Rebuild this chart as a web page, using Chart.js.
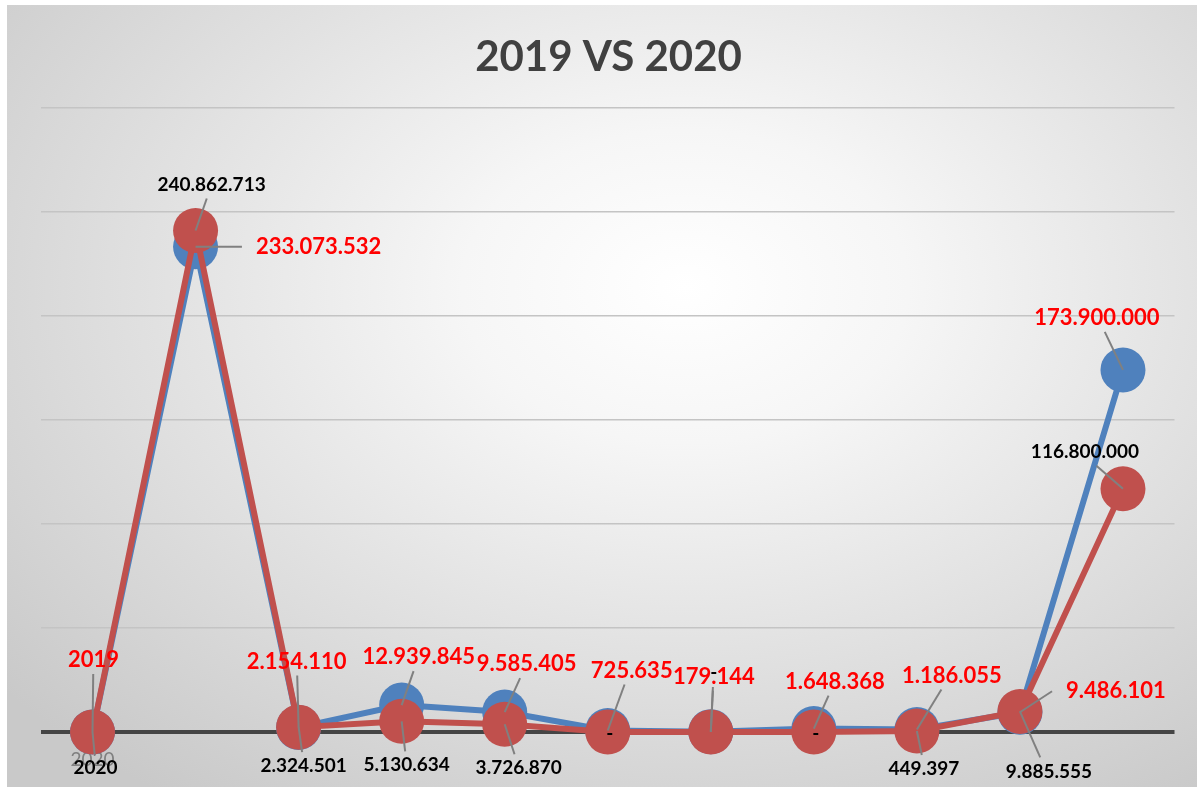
<!DOCTYPE html>
<html>
<head>
<meta charset="utf-8">
<script src="https://cdn.jsdelivr.net/npm/chart.js@4.4.1/dist/chart.umd.min.js"></script>
<style>
	html, body { margin: 0; padding: 0; background: #fff; }
	#wrap {
		position: absolute; left: 7px; top: 5px; width: 1190px; height: 782px;
		background: radial-gradient(ellipse 75% 80% at 57% 36%, #ffffff 0%, #f6f6f6 25%, #e2e2e2 58%, #c9c9c9 100%);
	}
</style>
</head>
<body>
<div id="wrap"><canvas id="chart" width="1190" height="782"></canvas></div>
<script>

const categories = ['2020', '', '', '', '', '', '', '', '', '', ''];

const seriesNames = ['2019', '2020'];

const values2019 = [0, 233073532, 2154110, 12939845, 9585405, 725635, 179144, 1648368, 1186055, 9486101, 173900000];
const values2020 = [0, 240862713, 2324501, 5130634, 3726870, 0, 0, 0, 449397, 9885555, 116800000];

const yTicks = { min: 0, max: 300000000, step: 50000000 };

// label placement, offset of label centre from its point (px)
const offsets2019 = [[1,-72],[123,0],[-2,-66],[17,-48],[22,-48],[24,-60],[3,-55],[21,-47],[35,-54],[96,-21],[-26,-52]];
const offsets2020 = [[3,36],[16,-46],[5,39],[5,44],[14,44],[2,2],[3,-59],[2,2],[7,38],[29,60],[-38,-37]];


const fmt = ( v ) => v === 0 ? '-' : String( v ).replace( /\B(?=(\d{3})+(?!\d))/g, '.' );

const leaderLabels = {

	id: 'leaderLabels',

	afterDatasetsDraw( chart ) {

		const ctx = chart.ctx;

		const sets = [
			{ meta: chart.getDatasetMeta(0), values: values2019, offsets: offsets2019, name: seriesNames[0], color: '#ff0000', font: 'bold 22px Lato' },
			{ meta: chart.getDatasetMeta(1), values: values2020, offsets: offsets2020, name: seriesNames[1], color: '#000000', font: 'bold 19px Lato' }
		];

		ctx.save();

		// leaders first
		for ( const s of sets ) {

			ctx.font = s.font;

			s.meta.data.forEach( ( pt, i ) => {

				const [ dx, dy ] = s.offsets[i];
				if ( Math.abs( dx ) < 10 && Math.abs( dy ) < 10 ) return;

				const text = i === 0 ? s.name : fmt( s.values[i] );
				const w = ctx.measureText( text ).width;
				const cx = pt.x + dx, cy = pt.y + dy;

				let ex, ey;
				if ( Math.abs( dx ) > Math.abs( dy ) * 2 ) {
					ex = cx - Math.sign( dx ) * ( w / 2 + 14 );
					ey = cy;
				} else {
					ex = cx - dx * 0.3;
					ey = cy - Math.sign( dy ) * 14;
				}

				ctx.strokeStyle = '#808080';
				ctx.lineWidth = 2;
				ctx.beginPath();
				ctx.moveTo( pt.x, pt.y );
				ctx.lineTo( ex, ey );
				ctx.stroke();

			});

		}

		ctx.textAlign = 'center';
		ctx.textBaseline = 'middle';

		for ( const s of sets ) {

			ctx.font = s.font;
			ctx.fillStyle = s.color;

			s.meta.data.forEach( ( pt, i ) => {

				const [ dx, dy ] = s.offsets[i];
				const text = i === 0 ? s.name : fmt( s.values[i] );
				ctx.fillText( text, pt.x + dx, pt.y + dy );

			});

		}

		ctx.restore();

	}

};


const chartData = {
	labels: categories,
	datasets: [{
		label: seriesNames[0],
		data: values2019,
		borderColor: '#4f81bd',
		backgroundColor: '#4f81bd',
		order: 1
	},{
		label: seriesNames[1],
		data: values2020,
		borderColor: '#c0504d',
		backgroundColor: '#c0504d',
		order: 0
	}]
};

const config = {
	type: 'line',
	data: chartData,
	plugins: [ leaderLabels ],
	options: {
		responsive: false,
		animation: false,
		layout: {
			padding: { left: 34, right: 21, top: 0, bottom: 0 }
		},
		elements: {
			line: { borderWidth: 6, tension: 0 },
			point: { radius: 22.5, borderWidth: 0, hoverRadius: 22.5 }
		},
		datasets: {
			line: { clip: false }
		},
		plugins: {
			legend: { display: false },
			tooltip: { enabled: false },
			title: {
				display: true,
				text: '2019 VS 2020',
				color: '#404040',
				font: { family: 'Lato', size: 42, weight: 'bold' },
				padding: { top: 27, bottom: 25 }
			}
		},
		scales: {
			x: {
				offset: true,
				grid: { display: false, drawTicks: false, tickLength: 0 },
				border: { display: false },
				ticks: {
					color: '#808080',
					padding: 18,
					font: { family: 'Lato', size: 19, lineHeight: 1 },
					autoSkip: false,
					maxRotation: 0
				}
			},
			y: {
				min: yTicks.min,
				max: yTicks.max,
				border: { display: false },
				grid: {
					drawTicks: false,
					tickLength: 0,
					color: ( c ) => c.tick.value === 0 ? '#454545' : '#c4c4c4',
					lineWidth: ( c ) => c.tick.value === 0 ? 4 : 1.5
				},
				ticks: { display: false, stepSize: yTicks.step }
			}
		}
	}
};

const chart = new Chart( document.getElementById('chart'), config );

</script>
</body>
</html>
